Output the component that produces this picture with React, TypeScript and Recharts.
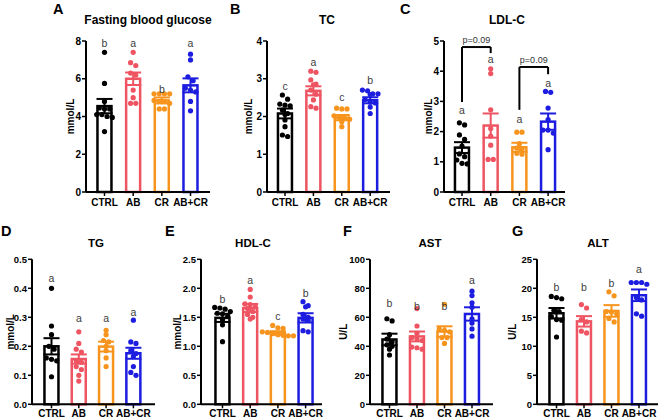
// Seven small Prism-style panels: hollow mean bars, SEM whiskers, individual
// points, compact-letter groups. Each panel is a full-page ComposedChart whose
// margins place its plot box where the original figure has it.

import { Bar, Cell, ComposedChart, ErrorBar, ReferenceLine, Scatter, XAxis, YAxis } from "recharts";

const groups = ["CTRL", "AB", "CR", "AB+CR"];
const colors = ["#000000", "#ee5461", "#f7941d", "#1d1de0"];

// A — fasting blood glucose (mmol/L)
const gluMean = [4.55, 6.0, 4.85, 5.65];
const gluSem = [0.38, 0.33, 0.16, 0.37];
const gluCtrl = [7.4, 5.75, 4.8, 4.45, 4.4, 4.4, 4.1, 4.1, 4.0, 3.95, 3.2];
const gluAb = [7.4, 6.85, 6.7, 6.3, 6.2, 5.4, 5.0, 4.7, 4.7];
const gluCr = [5.2, 5.2, 5.2, 5.2, 4.85, 4.8, 4.8, 4.7, 4.4, 4.4];
const gluAbcr = [7.3, 7.0, 6.1, 5.9, 5.5, 5.4, 5.3, 4.8, 4.3];
const gluLetters = ["b", "a", "b", "a"];
const gluLetterY = [7.9, 7.9, 5.45, 7.9];

// B — TC
const tcMean = [2.08, 2.68, 1.97, 2.43];
const tcSem = [0.13, 0.12, 0.07, 0.08];
const tcCtrl = [2.57, 2.46, 2.33, 2.3, 2.28, 2.17, 2.08, 2.05, 1.91, 1.73, 1.51, 1.47];
const tcAb = [3.2, 3.17, 2.97, 2.86, 2.84, 2.7, 2.59, 2.44, 2.26, 2.22];
const tcCr = [2.22, 2.2, 2.2, 2.02, 1.97, 1.95, 1.93, 1.86, 1.73];
const tcAbcr = [2.7, 2.68, 2.6, 2.6, 2.58, 2.45, 2.38, 2.36, 2.25, 2.08];
const tcLetters = ["c", "a", "c", "b"];
const tcLetterY = [2.81, 3.45, 2.51, 2.97];

// C — LDL-C
const ldlMean = [1.47, 2.2, 1.48, 2.33];
const ldlSem = [0.18, 0.4, 0.15, 0.27];
const ldlCtrl = [2.29, 2.22, 1.89, 1.74, 1.52, 1.26, 1.17, 1.06, 0.95, 0.93];
const ldlAb = [4.08, 3.92, 2.72, 2.1, 1.85, 1.55, 1.08, 1.08];
const ldlCr = [1.98, 1.98, 1.6, 1.45, 1.42, 1.28, 1.25];
const ldlAbcr = [3.33, 3.3, 2.78, 2.4, 2.05, 2.05, 1.95, 1.4];
const ldlLetters = ["a", "a", "a", "a"];
const ldlLetterY = [2.72, 4.39, 2.42, 3.62];
// comparison brackets: groups joined, bar height, leg ends, label
const ldlBracketFrom = [1, 3];
const ldlBracketTo = [2, 4];
const ldlBracketTop = [4.8, 4.14];
const ldlBracketLeft = [2.98, 2.72];
const ldlBracketRight = [4.6, 3.9];
const ldlBracketText = ["p=0.09", "p=0.09"];

// D — TG
const tgMean = [0.2, 0.156, 0.199, 0.176];
const tgSem = [0.028, 0.016, 0.017, 0.019];
const tgCtrl = [0.4, 0.27, 0.24, 0.2, 0.19, 0.16, 0.155, 0.15, 0.095];
const tgAb = [0.25, 0.21, 0.19, 0.18, 0.15, 0.145, 0.13, 0.12, 0.1, 0.08];
const tgCr = [0.255, 0.24, 0.22, 0.215, 0.2, 0.185, 0.16, 0.13];
const tgAbcr = [0.29, 0.215, 0.21, 0.185, 0.175, 0.165, 0.13, 0.11, 0.1];
const tgLetters = ["a", "a", "a", "a"];
const tgLetterY = [0.437, 0.297, 0.297, 0.319];

// E — HDL-C
const hdlMean = [1.49, 1.66, 1.23, 1.49];
const hdlSem = [0.07, 0.07, 0.03, 0.08];
const hdlCtrl = [1.67, 1.66, 1.64, 1.6, 1.57, 1.56, 1.52, 1.46, 1.37, 1.08];
const hdlAb = [1.98, 1.85, 1.73, 1.72, 1.68, 1.65, 1.6, 1.55, 1.5, 1.47];
const hdlCr = [1.36, 1.32, 1.31, 1.25, 1.24, 1.22, 1.2, 1.19, 1.18, 1.18];
const hdlAbcr = [1.77, 1.7, 1.68, 1.55, 1.5, 1.47, 1.45, 1.27, 1.25];
const hdlLetters = ["b", "a", "c", "b"];
const hdlLetterY = [1.81, 2.14, 1.52, 1.92];

// F — AST (U/L)
const astMean = [44.7, 46.8, 50.2, 62.3];
const astSem = [4.0, 3.4, 3.6, 4.6];
const astCtrl = [59, 57.5, 48, 45, 43, 41, 40, 38, 34];
const astAb = [66, 54, 49, 46, 45, 44, 39.5, 39, 38];
const astCr = [69, 52, 51, 50, 46, 46, 42];
const astAbcr = [78, 75, 70, 67, 59, 56, 52, 47];
const astLetters = ["b", "b", "b", "a"];
const astLetterY = [69.9, 68, 68, 85.8];

// G — ALT (U/L)
const altMean = [15.7, 14.3, 16.1, 18.8];
const altSem = [0.9, 0.9, 1.0, 1.0];
const altCtrl = [18.6, 18.4, 18.2, 16.2, 16, 15.1, 14.6, 14.5, 11.6];
const altAb = [17.2, 16.6, 14.6, 14.2, 12.6, 12.3];
const altCr = [19.4, 18.7, 16, 15.9, 15.6, 14.8, 14.2];
const altAbcr = [21, 21, 21, 20.7, 18.4, 18, 15.6, 15.2];
const altLetters = ["b", "b", "b", "a"];
const altLetterY = [20.3, 20.3, 21.0, 23.3];

const FONT = '"Liberation Sans", Arial, sans-serif';
const BAR_W = 14;

// Prism-like scatter: points with nearly equal values go side by side in a row
function swarm(values: number[], g: number, yMax: number, step: number) {
  const sorted = [...values].sort((a, b) => b - a);
  const rows: number[][] = [];
  for (const v of sorted) {
    const row = rows[rows.length - 1];
    if (row && Math.abs(row[0] - v) < yMax * 0.03) row.push(v);
    else rows.push([v]);
  }
  return rows.flatMap((row) => row.map((v, i) => ({ x: g + (i - (row.length - 1) / 2) * step, y: v })));
}

// hollow bar of fixed width, centred on the category position
const HollowBar = (p: any) => (
  <rect x={p.x + p.width / 2 - BAR_W / 2} y={p.y} width={BAR_W} height={Math.max(0, p.height)}
    fill="#fff" stroke={p.stroke} strokeWidth={2.5} />
);

function Panel({ lay, mean, sem, dots, letters, letterY, brackets }: any) {
  const lo = 1 - (lay.c1 - lay.axisX) / lay.step;
  const hi = 1 + (lay.endX - lay.c1) / lay.step;
  const yMax = lay.ticks[lay.ticks.length - 1];
  const bars = groups.map((_, i) => ({ x: i + 1, mean: mean[i] }));
  const dotStep = 5.2 / lay.step;
  const midY = (lay.top + lay.bottom) / 2;
  const tick = { fontSize: lay.tickSize, fontWeight: 700, fill: "#000", fontFamily: FONT };

  return (
    <div style={{ position: "absolute", left: 0, top: 0, width: 660, height: 419 }}>
      <ComposedChart width={660} height={419} data={bars} style={{ position: "absolute", left: 0, top: 0 }}
        margin={{ top: lay.top, left: lay.axisX - 30, right: 660 - lay.endX, bottom: 419 - lay.bottom - 10 }}>
        <XAxis type="number" dataKey="x" domain={[lo, hi]} ticks={[1, 2, 3, 4]} height={10} interval={0}
          tick={(p: any) => (
            <text x={p.x} y={lay.bottom + lay.xBase} textAnchor="middle"
              style={{ fontSize: 10, fontWeight: 700, fontFamily: FONT }} fill="#000">
              {groups[p.payload.value - 1]}
            </text>
          )}
          axisLine={{ stroke: "#000", strokeWidth: 2 }} tickLine={{ stroke: "#000", strokeWidth: 1.5 }}
          tickSize={4} />
        <YAxis type="number" domain={[0, yMax]} ticks={lay.ticks} width={30} interval={0}
          tickFormatter={(v: number) => v.toFixed(lay.dec)} tick={tick}
          axisLine={{ stroke: "#000", strokeWidth: 2 }} tickLine={{ stroke: "#000", strokeWidth: 1.5 }}
          tickSize={4} tickMargin={1}
          label={() => (
            <text x={lay.labelX} y={midY} transform={`rotate(-90 ${lay.labelX} ${midY})`}
              textAnchor="middle" dominantBaseline="central"
              style={{ fontSize: 10, fontWeight: 700, fontFamily: FONT }} fill="#000">{lay.unit}</text>
          )} />
        <Bar dataKey="mean" fill="#fff" isAnimationActive={false} shape={HollowBar}>
          {bars.map((_, i) => <Cell key={i} stroke={colors[i]} />)}
        </Bar>
        {groups.map((_, i) => (
          <Scatter key={"e" + i} data={[{ x: i + 1, y: mean[i], err: sem[i] }]} dataKey="y"
            shape={() => <g />} isAnimationActive={false}>
            <ErrorBar dataKey="err" direction="y" width={8} stroke={colors[i]} strokeWidth={2} />
          </Scatter>
        ))}
        {groups.map((_, i) => (
          <Scatter key={"d" + i} data={swarm(dots[i], i + 1, yMax, dotStep)} dataKey="y"
            isAnimationActive={false}
            shape={(p: any) => <circle cx={p.cx} cy={p.cy} r={2.6} fill={colors[i]} />} />
        ))}
        <Scatter data={letters.map((t: string, i: number) => ({ x: i + 1, y: letterY[i], t }))} dataKey="y"
          isAnimationActive={false}
          shape={(p: any) => (
            <text x={p.cx} y={p.cy} textAnchor="middle" dominantBaseline="central"
              style={{ fontSize: 10.5, fontFamily: FONT }} fill="#3c3c3c">{p.payload.t}</text>
          )} />
        {brackets && brackets.from.map((f: number, i: number) => [
          <ReferenceLine key={"bt" + i} segment={[{ x: f, y: brackets.top[i] }, { x: brackets.to[i], y: brackets.top[i] }]}
            stroke="#000" strokeWidth={2} />,
          <ReferenceLine key={"bl" + i} segment={[{ x: f, y: brackets.left[i] }, { x: f, y: brackets.top[i] }]}
            stroke="#000" strokeWidth={2} />,
          <ReferenceLine key={"br" + i} segment={[{ x: brackets.to[i], y: brackets.right[i] }, { x: brackets.to[i], y: brackets.top[i] }]}
            stroke="#000" strokeWidth={2} />,
        ])}
        {brackets && (
          <Scatter data={brackets.from.map((f: number, i: number) => ({ x: (f + brackets.to[i]) / 2, y: brackets.top[i], t: brackets.text[i] }))}
            dataKey="y" isAnimationActive={false}
            shape={(p: any) => (
              <text x={p.cx} y={p.cy - 4} textAnchor="middle"
                style={{ fontSize: 9, fontFamily: FONT }} fill="#333">{p.payload.t}</text>
            )} />
        )}
      </ComposedChart>
      <svg width={660} height={419} style={{ position: "absolute", left: 0, top: 0, pointerEvents: "none" }}>
        <text x={lay.tagX} y={lay.tagY} style={{ fontSize: 14.5, fontWeight: 700, fontFamily: FONT }} fill="#000">{lay.tag}</text>
        <text x={lay.titleX} y={lay.titleY} textAnchor="middle"
          style={{ fontSize: lay.titleSize, fontWeight: 700, fontFamily: FONT }} fill="#000">{lay.title}</text>
      </svg>
    </div>
  );
}

const row1 = { top: 41, bottom: 192, titleY: 24, tagY: 14, titleSize: 12, tickSize: 10, xBase: 13.5 };
const row2 = { top: 259.3, bottom: 404.3, titleY: 247, tagY: 236, titleSize: 11.5, tickSize: 9.5, xBase: 13 };

export default function App() {
  return (
    <div style={{ position: "fixed", left: 0, top: 0, width: 660, height: 419, background: "#fff", fontFamily: FONT, overflow: "hidden" }}>
      <Panel lay={{ ...row1, axisX: 86, endX: 210, c1: 104.5, step: 28.67, ticks: [0, 2, 4, 6, 8], dec: 0, unit: "mmol/L", labelX: 70,
        title: "Fasting blood glucose", titleX: 148, tag: "A", tagX: 53 }}
        mean={gluMean} sem={gluSem} dots={[gluCtrl, gluAb, gluCr, gluAbcr]} letters={gluLetters} letterY={gluLetterY} />
      <Panel lay={{ ...row1, axisX: 267, endX: 390, c1: 285, step: 28.4, ticks: [0, 1, 2, 3, 4], dec: 0, unit: "mmol/L", labelX: 248,
        title: "TC", titleX: 327, tag: "B", tagX: 230 }}
        mean={tcMean} sem={tcSem} dots={[tcCtrl, tcAb, tcCr, tcAbcr]} letters={tcLetters} letterY={tcLetterY} />
      <Panel lay={{ ...row1, axisX: 444, endX: 565, c1: 462, step: 28.7, ticks: [0, 1, 2, 3, 4, 5], dec: 0, unit: "mmol/L", labelX: 428,
        title: "LDL-C", titleX: 507, tag: "C", tagX: 400 }}
        mean={ldlMean} sem={ldlSem} dots={[ldlCtrl, ldlAb, ldlCr, ldlAbcr]} letters={ldlLetters} letterY={ldlLetterY}
        brackets={{ from: ldlBracketFrom, to: ldlBracketTo, top: ldlBracketTop, left: ldlBracketLeft, right: ldlBracketRight, text: ldlBracketText }} />
      <Panel lay={{ ...row2, axisX: 32, endX: 155, c1: 51.5, step: 27.3, ticks: [0, 0.1, 0.2, 0.3, 0.4, 0.5], dec: 1, unit: "mmol/L", labelX: 11,
        title: "TG", titleX: 96, tag: "D", tagX: 1 }}
        mean={tgMean} sem={tgSem} dots={[tgCtrl, tgAb, tgCr, tgAbcr]} letters={tgLetters} letterY={tgLetterY} />
      <Panel lay={{ ...row2, axisX: 201, endX: 322, c1: 222.5, step: 27.7, ticks: [0, 0.5, 1, 1.5, 2, 2.5], dec: 1, unit: "mmol/L", labelX: 178,
        title: "HDL-C", titleX: 253, tag: "E", tagX: 165 }}
        mean={hdlMean} sem={hdlSem} dots={[hdlCtrl, hdlAb, hdlCr, hdlAbcr]} letters={hdlLetters} letterY={hdlLetterY} />
      <Panel lay={{ ...row2, axisX: 370, endX: 493, c1: 389.5, step: 27.5, ticks: [0, 20, 40, 60, 80, 100], dec: 0, unit: "U/L", labelX: 344,
        title: "AST", titleX: 430, tag: "F", tagX: 343 }}
        mean={astMean} sem={astSem} dots={[astCtrl, astAb, astCr, astAbcr]} letters={astLetters} letterY={astLetterY} />
      <Panel lay={{ ...row2, axisX: 537, endX: 658, c1: 556.5, step: 27.5, ticks: [0, 5, 10, 15, 20, 25], dec: 0, unit: "U/L", labelX: 513,
        title: "ALT", titleX: 598, tag: "G", tagX: 512 }}
        mean={altMean} sem={altSem} dots={[altCtrl, altAb, altCr, altAbcr]} letters={altLetters} letterY={altLetterY} />
    </div>
  );
}
